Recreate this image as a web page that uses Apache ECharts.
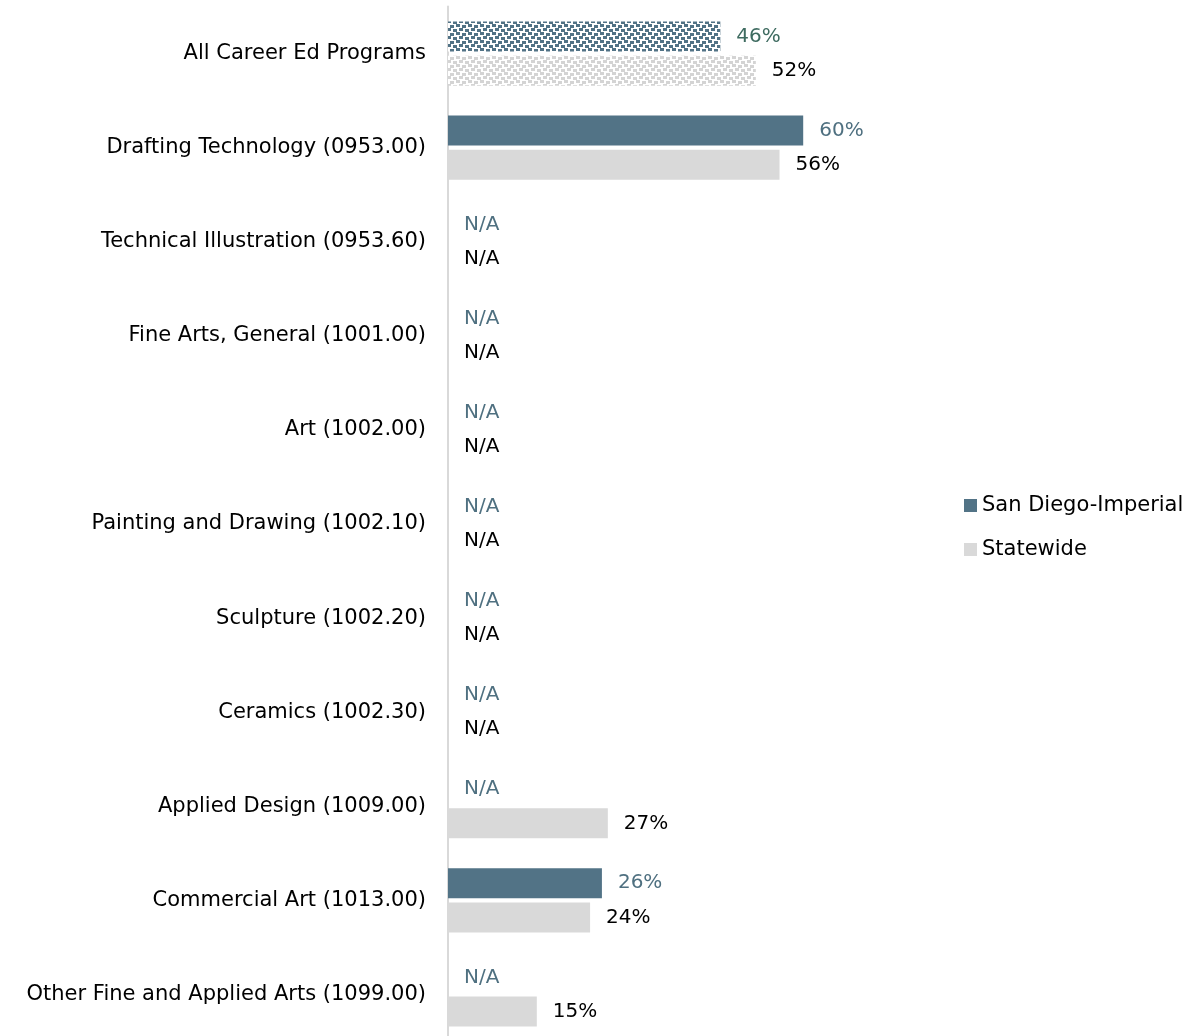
<!DOCTYPE html>
<html>
<head>
<meta charset="utf-8">
<style>
html,body{margin:0;padding:0;background:#fff;overflow:hidden;}
#chart{width:1194px;height:1042px;}
</style>
<script src="https://cdn.jsdelivr.net/npm/echarts@6/dist/echarts.min.js"></script>
</head>
<body>
<div id="chart"></div>
<script>
const categories = [
  "All Career Ed Programs",
  "Drafting Technology (0953.00)",
  "Technical Illustration (0953.60)",
  "Fine Arts, General (1001.00)",
  "Art (1002.00)",
  "Painting and Drawing (1002.10)",
  "Sculpture (1002.20)",
  "Ceramics (1002.30)",
  "Applied Design (1009.00)",
  "Commercial Art (1013.00)",
  "Other Fine and Applied Arts (1099.00)"
];
const sanDiegoImperial = [46, 60, null, null, null, null, null, null, null, 26, null];
const statewide = [52, 56, null, null, null, null, null, null, 27, 24, 15];
const seriesNames = ["San Diego-Imperial", "Statewide"];

const FONT = 'DejaVu Sans';
const DARK = '#527386';
const LIGHT = '#d9d9d9';

function makePattern(color) {
  const c = document.createElement('canvas');
  c.width = 12; c.height = 8;
  const g = c.getContext('2d');
  g.fillStyle = '#ffffff';
  g.fillRect(0, 0, 12, 8);
  g.fillStyle = color;
  g.fillRect(0, 0, 4, 3);
  g.fillRect(6, 1, 4, 3);
  g.fillRect(3, 4, 4, 3);
  g.fillRect(9, 5, 3, 3);
  g.fillRect(0, 5, 1, 3);
  return c;
}

function buildData(values, color, firstLabelColor) {
  return values.map((v, i) => {
    const item = { value: v === null ? 0 : v, na: v === null };
    if (i === 0) {
      item.itemStyle = { color: { image: makePattern(color), repeat: 'repeat' } };
      if (firstLabelColor) item.label = { color: firstLabelColor };
    }
    return item;
  });
}

const chart = echarts.init(document.getElementById('chart'));
chart.setOption({
  animation: false,
  textStyle: { fontFamily: FONT },
  legend: {
    orient: 'vertical',
    left: 959,
    top: 490,
    itemWidth: 13,
    itemHeight: 13,
    itemGap: 23,
    icon: 'rect',
    textStyle: { fontFamily: FONT, fontSize: 21, color: '#000', padding: [0, 0, 0, 0] },
    data: seriesNames
  },
  grid: { left: 448, top: 6.5, width: 592, height: 1035 },
  xAxis: {
    type: 'value', min: 0, max: 100, show: false
  },
  yAxis: {
    type: 'category',
    data: categories,
    inverse: true,
    axisLine: { show: true, lineStyle: { color: LIGHT, width: 2 } },
    axisTick: { show: false },
    axisLabel: { fontFamily: FONT, fontSize: 21, color: '#000', margin: 22 }
  },
  series: [
    {
      name: seriesNames[0],
      type: 'bar',
      data: buildData(sanDiegoImperial, DARK, '#3e6b60'),
      barWidth: 30,
      barGap: '14%',
      itemStyle: { color: DARK },
      label: {
        show: true, position: 'right', distance: 16,
        fontFamily: FONT, fontSize: 20, color: '#4f7080',
        formatter: p => p.data.na ? 'N/A' : p.value + '%'
      }
    },
    {
      name: seriesNames[1],
      type: 'bar',
      data: buildData(statewide, '#d4d4d4', null),
      barWidth: 30,
      itemStyle: { color: LIGHT },
      label: {
        show: true, position: 'right', distance: 16,
        fontFamily: FONT, fontSize: 20, color: '#000',
        formatter: p => p.data.na ? 'N/A' : p.value + '%'
      }
    }
  ]
});
</script>
</body>
</html>
